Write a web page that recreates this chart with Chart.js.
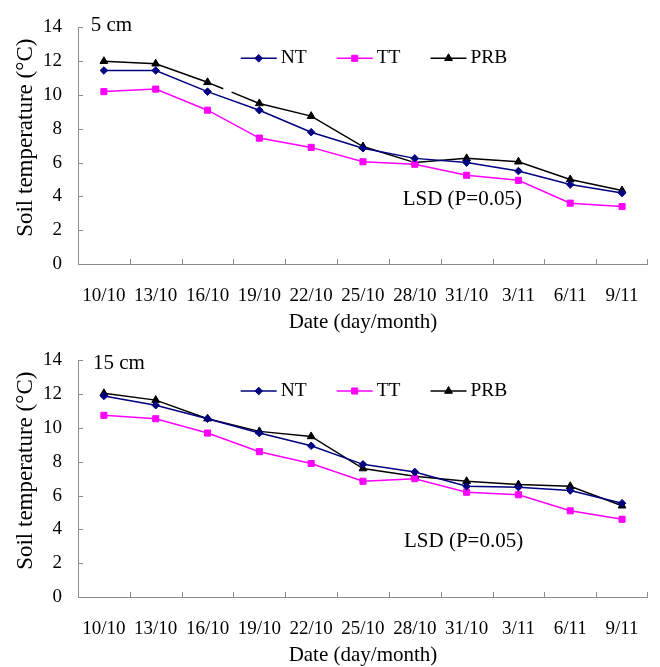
<!DOCTYPE html>
<html><head><meta charset="utf-8">
<script src="https://cdn.jsdelivr.net/npm/chart.js@4.4.1/dist/chart.umd.min.js"></script>
<style>
html,body{margin:0;padding:0;background:#fff;}
#wrap{width:660px;height:667px;position:relative;background:#fff;}
canvas{display:block;position:absolute;left:0;}
</style></head><body>
<div id="wrap">
<canvas id="c1" width="660" height="333" style="top:0px"></canvas>
<canvas id="c2" width="660" height="333" style="top:333px"></canvas>
</div>
<script>
// ---- data ----
const categories = ['10/10','13/10','16/10','19/10','22/10','25/10','28/10','31/10','3/11','6/11','9/11'];
const seriesNames = ['NT','TT','PRB'];
const yTickLabels = [0, 2, 4, 6, 8, 10, 12, 14];

// 5 cm depth
const nt5  = [11.45, 11.45, 10.2, 9.1, 7.8, 6.85, 6.25, 6.0, 5.5, 4.7, 4.2];
const tt5  = [10.2, 10.35, 9.1, 7.45, 6.9, 6.05, 5.9, 5.25, 4.95, 3.6, 3.4];
const prb5 = [12.0, 11.85, 10.75, 9.5, 8.75, 6.95, 6.0, 6.25, 6.05, 5.0, 4.35];

// 15 cm depth
const nt15  = [11.9, 11.35, 10.55, 9.7, 8.95, 7.85, 7.4, 6.55, 6.5, 6.3, 5.55];
const tt15  = [10.75, 10.55, 9.7, 8.6, 7.9, 6.85, 7.0, 6.2, 6.05, 5.1, 4.6];
const prb15 = [12.05, 11.65, 10.55, 9.8, 9.5, 7.6, 7.15, 6.85, 6.65, 6.55, 5.4];

const depthLabels = ['5 cm', '15 cm'];
const lsdText = 'LSD (P=0.05)';
const yTitle = 'Soil temperature (\u00B0C)';
const xTitle = 'Date (day/month)';

// ---- styles ----
const FONT = '"Liberation Serif", "Times New Roman", serif';
const axisColor = '#8c8c8c';
const styles = {
  NT:  {color: '#000080', pointStyle: 'rectRot', radius: 3.8},
  TT:  {color: '#FF00FF', pointStyle: 'rect', radius: 4.3},
  PRB: {color: '#000000', pointStyle: 'triangle', radius: 4.5}
};

function makeDatasets(values, gapSeries) {
  return seriesNames.map((name, i) => {
    const st = styles[name];
    const ds = {
      label: name,
      data: values[i],
      borderColor: st.color,
      backgroundColor: st.color,
      pointBackgroundColor: st.color,
      pointBorderColor: st.color,
      pointBorderWidth: 1,
      pointStyle: st.pointStyle,
      pointRadius: st.radius,
      borderWidth: 1.5,
      tension: 0,
      fill: false
    };
    if (gapSeries && gapSeries.name === name) {
      ds.segment = {
        borderDash: c => c.p0DataIndex === gapSeries.index ? gapSeries.dash : undefined
      };
    }
    return ds;
  });
}

const decorPlugin = {
  id: 'decor',
  afterDraw(chart, args, opts) {
    const {ctx, chartArea: {left, right, top, bottom}, scales: {x, y}} = chart;
    ctx.save();
    // inside tick marks
    ctx.strokeStyle = axisColor;
    ctx.lineWidth = 1;
    ctx.beginPath();
    const n = chart.data.labels.length;
    for (let i = 1; i <= n; i++) {
      const px = i < n ? (x.getPixelForValue(i - 1) + x.getPixelForValue(i)) / 2 : right - 1;
      const xx = Math.round(px) + 0.5;
      ctx.moveTo(xx, bottom);
      ctx.lineTo(xx, bottom - 5);
    }
    y.ticks.forEach(t => {
      if (t.value === y.min) return;
      const py = Math.round(y.getPixelForValue(t.value)) + 0.5;
      ctx.moveTo(left, py);
      ctx.lineTo(left + 5, py);
    });
    ctx.stroke();

    // legend (line + marker + label)
    ctx.font = '19.5px ' + FONT;
    ctx.textAlign = 'left';
    ctx.textBaseline = 'middle';
    let lx = opts.legendX;
    const ly = opts.legendY;
    chart.data.datasets.forEach(ds => {
      ctx.strokeStyle = ds.borderColor;
      ctx.lineWidth = ds.borderWidth;
      ctx.setLineDash([]);
      ctx.beginPath();
      ctx.moveTo(lx, ly);
      ctx.lineTo(lx + 36, ly);
      ctx.stroke();
      ctx.fillStyle = ds.pointBackgroundColor;
      ctx.strokeStyle = ds.pointBorderColor;
      ctx.lineWidth = 1;
      Chart.helpers.drawPoint(ctx, {pointStyle: ds.pointStyle, radius: ds.pointRadius, borderWidth: 1, rotation: 0}, lx + 18, ly);
      ctx.fillStyle = '#000';
      ctx.fillText(ds.label, lx + 40, ly);
      lx += 40 + ctx.measureText(ds.label).width + 30;
    });

    // depth label and LSD note
    ctx.fillStyle = '#000';
    ctx.font = '21px ' + FONT;
    ctx.fillText(opts.depth, opts.depthX, opts.depthY);
    ctx.fillText(lsdText, opts.lsdX, opts.lsdY);

    // y axis title
    ctx.font = '23px ' + FONT;
    ctx.textAlign = 'center';
    ctx.translate(opts.yTitleX, (top + bottom) / 2 + opts.yTitleShift);
    ctx.rotate(-Math.PI / 2);
    ctx.fillText(yTitle, 0, 0);
    ctx.restore();
  }
};

function makeChart(id, datasets, decor) {
  return new Chart(document.getElementById(id), {
    type: 'line',
    data: {labels: categories, datasets},
    plugins: [decorPlugin],
    options: {
      responsive: false,
      animation: false,
      devicePixelRatio: 1,
      layout: {padding: {left: 0, right: 9, top: 19, bottom: 0}},
      plugins: {
        legend: {display: false},
        tooltip: {enabled: false},
        decor
      },
      scales: {
        x: {
          type: 'category',
          offset: true,
          grid: {display: false, drawTicks: false},
          border: {display: true, color: axisColor, width: 1},
          ticks: {font: {family: FONT, size: 19}, color: '#000', padding: 21, maxRotation: 0, autoSkip: false},
          title: {display: true, text: xTitle, font: {family: FONT, size: 21}, color: '#000', padding: {top: 0, bottom: -2}},
          afterFit: s => { s.height = 69; }
        },
        y: {
          min: yTickLabels[0],
          max: yTickLabels[yTickLabels.length - 1],
          ticks: {stepSize: yTickLabels[1] - yTickLabels[0], font: {family: FONT, size: 19}, color: '#000', padding: 16},
          grid: {display: false, drawTicks: false},
          border: {display: true, color: axisColor, width: 1},
          afterFit: s => { s.width = 78; }
        }
      }
    }
  });
}

makeChart('c1', makeDatasets([nt5, tt5, prb5], {name: 'PRB', index: 2, dash: [17, 9, 80]}), {
  legendX: 240.7, legendY: 58.3,
  depth: depthLabels[0], depthX: 90.7, depthY: 25.3,
  lsdX: 402.7, lsdY: 199,
  yTitleX: 26, yTitleShift: -8
});
makeChart('c2', makeDatasets([nt15, tt15, prb15], null), {
  legendX: 240.7, legendY: 58,
  depth: depthLabels[1], depthX: 93, depthY: 30.5,
  lsdX: 404, lsdY: 208,
  yTitleX: 26, yTitleShift: -8
});
</script>
</body></html>
